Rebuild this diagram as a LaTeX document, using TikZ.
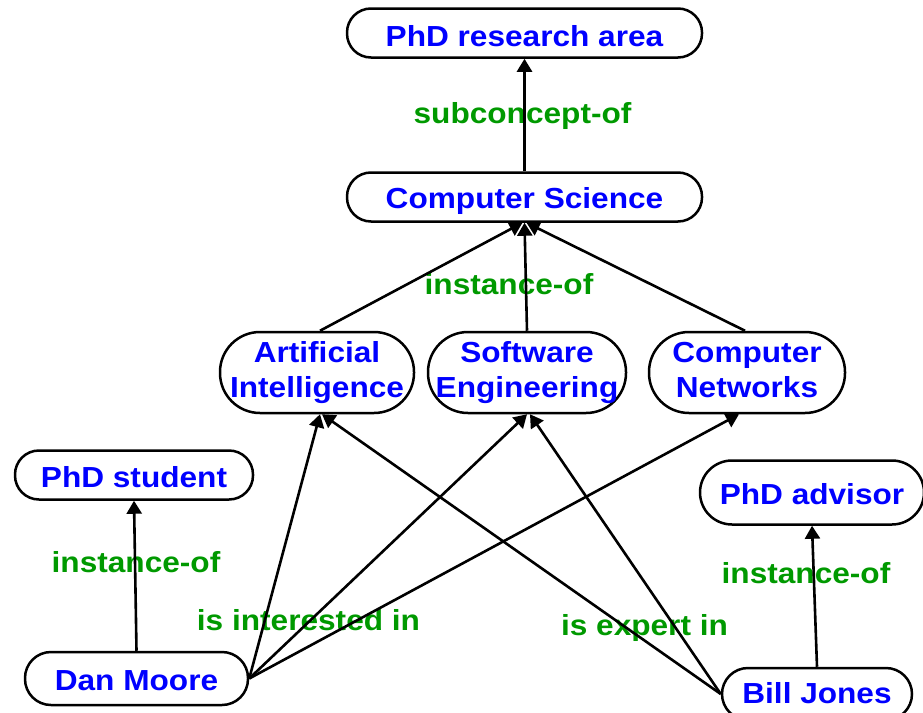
\documentclass[tikz,border=0pt]{standalone}
\usepackage{fontspec}
\setmainfont{Liberation Sans}[FakeStretch=1.09]
\usetikzlibrary{arrows.meta}
\definecolor{nodeblue}{RGB}{0,0,255}
\definecolor{labgreen}{RGB}{0,153,0}
\tikzset{
  concept/.style={draw=black, line width=2.5pt, fill=white, text=nodeblue,
    font=\fontsize{29}{35}\selectfont\bfseries, align=center, inner sep=0pt},
  onerow/.style={concept, minimum height=49pt, rounded corners=24pt, text height=#1, text depth=0pt},
  onerow/.default=26pt,
  tworow/.style={concept, minimum height=81pt, rounded corners=40pt},
  rel/.style={text=labgreen, font=\fontsize{29}{35}\selectfont\bfseries, inner sep=0pt},
  link/.style={line width=2.6pt, -{Triangle[length=13pt,width=15pt]}},
}
\begin{document}
\begin{tikzpicture}[x=1pt,y=-1pt]
\useasboundingbox (0,0) rectangle (923,712);
% nodes
\node[onerow=26pt, minimum width=355pt] (pra) at (524.5,33) {PhD research area};
\node[onerow=22pt, minimum width=355pt] (cs) at (524.5,197) {Computer Science};
\node[tworow, minimum width=194pt] (ai) at (317,372.5) {Artificial\\Intelligence};
\node[tworow, minimum width=198pt] (se) at (527,372.5) {Software\\Engineering};
\node[tworow, minimum width=196pt] (cn) at (747,372.5) {Computer\\Networks\vphantom{g}};
\node[onerow=24pt, minimum width=238pt] (ps) at (134,475) {PhD student};
\node[onerow=23pt, minimum width=223pt, minimum height=53pt, rounded corners=26pt] (dm) at (136.5,678.5) {Dan Moore};
\node[onerow=23pt, minimum width=224pt, minimum height=64pt, rounded corners=32pt] (pa) at (812,492.5) {PhD advisor};
\node[onerow=18pt, minimum width=190pt, minimum height=52pt, rounded corners=26pt] (bj) at (817,694) {Bill Jones};
% labels
\node[rel] (l1) at (522.5,116) {subconcept-of};
\node[rel] (l2) at (509,284) {instance-of};
\node[rel] (l3) at (136,562) {instance-of};
\node[rel] (l4) at (308.5,620) {is interested in};
\node[rel] (l5) at (644.5,628) {is expert in};
\node[rel] (l6) at (806,573) {instance-of};
% edges
\draw[link] (cs.north) -- (pra.south);
\draw[link] ([xshift=3pt]ai.north) -- ([xshift=-2pt]cs.south);
\draw[link] (se.north) -- (cs.south);
\draw[link] ([xshift=-2pt]cn.north) -- ([xshift=2pt]cs.south);
\draw[link] (dm.east) -- ([xshift=3pt]ai.south);
\draw[link] (dm.east) -- (se.south);
\draw[link] (dm.east) -- ([xshift=-8pt]cn.south);
\draw[link] (bj.west) -- ([xshift=5pt]ai.south);
\draw[link] (bj.west) -- ([xshift=3pt]se.south);
\draw[link] (dm.north) -- (ps.south);
\draw[link] (bj.north) -- (pa.south);
\end{tikzpicture}
\end{document}
